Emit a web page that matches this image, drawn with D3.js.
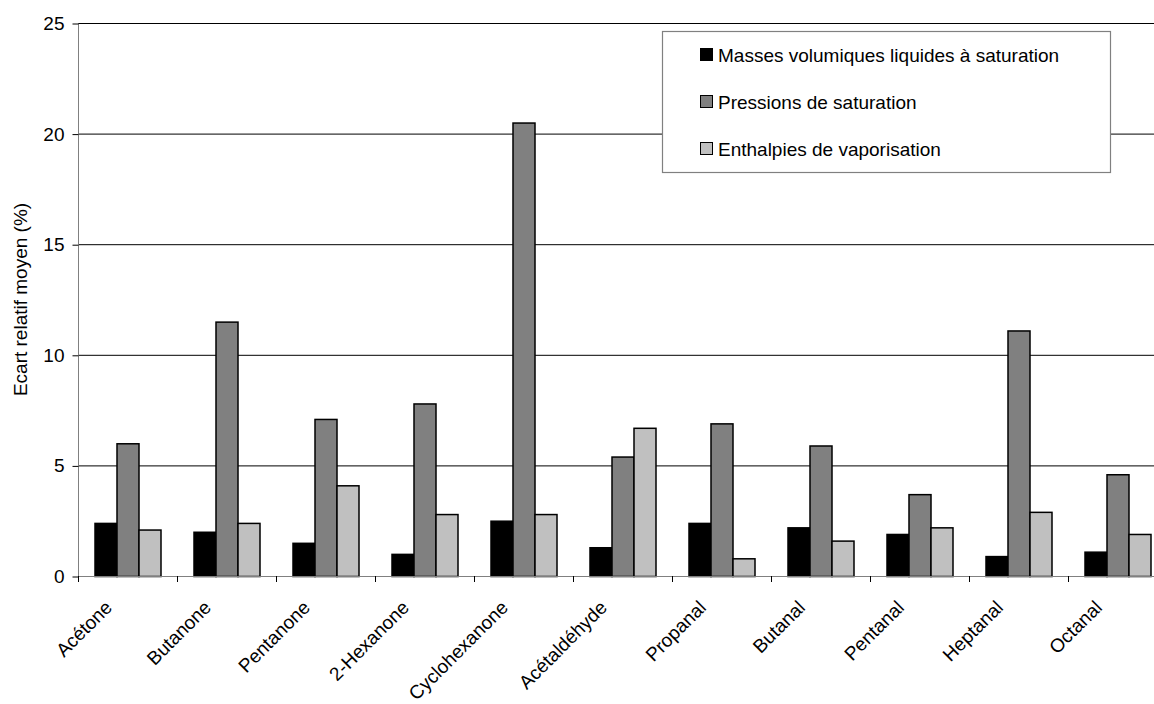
<!DOCTYPE html>
<html>
<head>
<meta charset="utf-8">
<script src="https://cdn.jsdelivr.net/npm/d3@7"></script>
<style>
  html, body { margin: 0; padding: 0; background: #fff; }
  svg { display: block; font-family: "Liberation Sans", Arial, sans-serif; }
</style>
</head>
<body>
<svg id="chart" width="1154" height="704"></svg>
<script>
// Mean relative deviation (%) per compound for three properties
const categories = ["Acétone", "Butanone", "Pentanone", "2-Hexanone", "Cyclohexanone",
  "Acétaldéhyde", "Propanal", "Butanal", "Pentanal", "Heptanal", "Octanal"];
const seriesNames = ["Masses volumiques liquides à saturation", "Pressions de saturation", "Enthalpies de vaporisation"];
const masses = [2.4, 2.0, 1.5, 1.0, 2.5, 1.3, 2.4, 2.2, 1.9, 0.9, 1.1];
const pressions = [6.0, 11.5, 7.1, 7.8, 20.5, 5.4, 6.9, 5.9, 3.7, 11.1, 4.6];
const enthalpies = [2.1, 2.4, 4.1, 2.8, 2.8, 6.7, 0.8, 1.6, 2.2, 2.9, 1.9];
const yTicks = [0, 5, 10, 15, 20, 25];
const colors = ["#000000", "#808080", "#c0c0c0"];

const seriesValues = [masses, pressions, enthalpies];
const fontSize = 19;

const svg = d3.select("#chart");
const plotLeft = 78, plotRight = 1167, plotTop = 23, plotBottom = 576;

const x = d3.scaleBand().domain(categories).range([plotLeft, plotRight])
  .paddingInner(1 / 3).paddingOuter(1 / 6);
const step = x.step();
const xs = d3.scaleBand().domain(d3.range(seriesNames.length)).range([0, x.bandwidth()]);
const y = d3.scaleLinear().domain([0, 25]).range([plotBottom, plotTop]);

// horizontal gridlines
svg.append("g").selectAll("line").data(yTicks.filter(d => d > 0)).join("line")
  .attr("x1", plotLeft).attr("x2", 1154)
  .attr("y1", d => y(d) + 0.5).attr("y2", d => y(d) + 0.5)
  .attr("stroke", "#000").attr("stroke-width", 1);

// y axis
const yAxis = d3.axisLeft(y).tickValues(yTicks).tickSize(6).tickPadding(8).tickFormat(d3.format("d"));
const gy = svg.append("g").attr("transform", `translate(${plotLeft + 0.5},0.5)`).call(yAxis);
gy.select(".domain").attr("stroke", "#808080").attr("d", `M0,${plotTop}V${plotBottom}`);
gy.selectAll(".tick line").attr("stroke", "#000");
gy.selectAll(".tick text").attr("font-size", fontSize).attr("fill", "#000")
  .attr("font-family", "'Liberation Sans', Arial, sans-serif");

// bars
const groups = svg.append("g").selectAll("g").data(categories).join("g")
  .attr("transform", d => `translate(${x(d)},0)`);
groups.selectAll("rect")
  .data((d, i) => seriesValues.map((vals, s) => ({ s, v: vals[i] })))
  .join("rect")
  .attr("x", d => xs(d.s) + 0.5)
  .attr("y", d => y(d.v) + 0.5)
  .attr("width", xs.bandwidth())
  .attr("height", d => plotBottom - y(d.v))
  .attr("fill", d => colors[d.s])
  .attr("stroke", "#000").attr("stroke-width", 1.5);

// x axis baseline and boundary ticks
svg.append("line").attr("x1", plotLeft).attr("x2", 1154)
  .attr("y1", plotBottom + 0.5).attr("y2", plotBottom + 0.5)
  .attr("stroke", "#808080").attr("stroke-width", 1.2);
svg.append("g").selectAll("line").data(d3.range(categories.length + 1)).join("line")
  .attr("x1", i => plotLeft + i * step + 0.5).attr("x2", i => plotLeft + i * step + 0.5)
  .attr("y1", plotBottom).attr("y2", plotBottom + 6)
  .attr("stroke", "#000");

// rotated category labels
svg.append("g").selectAll("text").data(categories).join("text")
  .attr("transform", d => `translate(${x(d) + x.bandwidth() / 2 - 19},${plotBottom + 28}) rotate(-45)`)
  .attr("text-anchor", "end")
  .attr("font-size", fontSize)
  .attr("dy", "0.35em")
  .text(d => d);

// y axis title
svg.append("text")
  .attr("transform", `translate(27,${(plotTop + plotBottom) / 2}) rotate(-90)`)
  .attr("text-anchor", "middle")
  .attr("font-size", fontSize)
  .text("Ecart relatif moyen (%)");

// legend
const lg = svg.append("g").attr("transform", "translate(662,31)");
lg.append("rect").attr("x", 0.5).attr("y", 0.5).attr("width", 448).attr("height", 141)
  .attr("fill", "#fff").attr("stroke", "#808080").attr("stroke-width", 1.2);
const items = lg.selectAll("g.item").data(seriesNames).join("g")
  .attr("transform", (d, i) => `translate(38,${24 + i * 47})`);
items.append("rect").attr("x", 0.5).attr("y", -6.5).attr("width", 12).attr("height", 12)
  .attr("fill", (d, i) => colors[i]).attr("stroke", "#000").attr("stroke-width", 1);
items.append("text").attr("x", 18).attr("dy", "0.35em").attr("font-size", fontSize).text(d => d);
</script>
</body>
</html>
